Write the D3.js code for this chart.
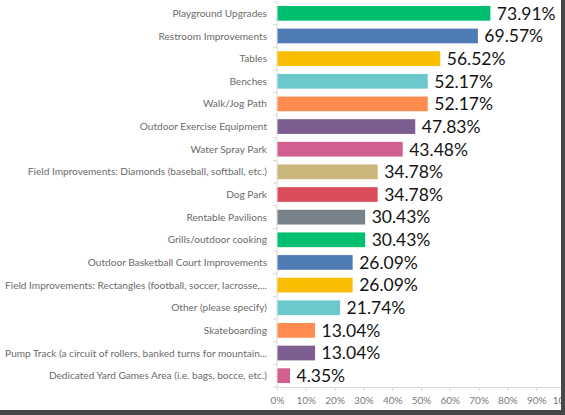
<!DOCTYPE html>
<html>
<head>
<meta charset="utf-8">
<script src="https://cdn.jsdelivr.net/npm/d3@7"></script>
<style>
  body { margin: 0; background: #fff; }
  svg { display: block; }
  .catLabel { font-family: Lato, "Liberation Sans", sans-serif; font-size: 10.1px; fill: #6b6b6b; }
  .valLabel { font-family: Lato, "Liberation Sans", sans-serif; font-size: 17.5px; fill: #141414; }
  .axis-x text { font-family: Lato, "Liberation Sans", sans-serif; font-size: 10px; fill: #7a7a7a; }
</style>
</head>
<body>
<div id="chart"></div>
<script>
// 数据
var categories = [
  "Playground Upgrades",
  "Restroom Improvements",
  "Tables",
  "Benches",
  "Walk/Jog Path",
  "Outdoor Exercise Equipment",
  "Water Spray Park",
  "Field Improvements: Diamonds (baseball, softball, etc.)",
  "Dog Park",
  "Rentable Pavilions",
  "Grills/outdoor cooking",
  "Outdoor Basketball Court Improvements",
  "Field Improvements: Rectangles (football, soccer, lacrosse,...",
  "Other (please specify)",
  "Skateboarding",
  "Pump Track (a circuit of rollers, banked turns for mountain...",
  "Dedicated Yard Games Area (i.e. bags, bocce, etc.)"
];
var values = [73.91, 69.57, 56.52, 52.17, 52.17, 47.83, 43.48, 34.78, 34.78, 30.43, 30.43, 26.09, 26.09, 21.74, 13.04, 13.04, 4.35];
var tickValues = [0, 10, 20, 30, 40, 50, 60, 70, 80, 90, 100];

// 调色板
var colors = ["#00bf6f", "#507cb6", "#f9be00", "#6bc8cd", "#ff8b4f", "#7d5e90", "#d25f90",
              "#c9b77b", "#db4d5c", "#798189", "#00bf6f", "#507cb6", "#f9be00", "#6bc8cd",
              "#ff8b4f", "#7d5e90", "#d25f90"];

var W = 565, H = 415;
var margin = { top: 2, left: 277 };
var plotBottom = 387;
var plotRight = 565;

var svg = d3.select("#chart").append("svg")
  .attr("width", W)
  .attr("height", H);

var x = d3.scaleLinear().domain([0, 100]).range([margin.left, plotRight]);
var y = d3.scaleBand().domain(categories).range([margin.top, plotBottom]).paddingInner(0.35).paddingOuter(0.175);
var yb = d3.scaleBand().domain(categories).range([margin.top, plotBottom]); // 用于刻度位置

// x 轴
var xAxis = d3.axisBottom(x)
  .tickValues(tickValues)
  .tickSize(4)
  .tickFormat(function(d) { return d + "%"; });

var gx = svg.append("g")
  .attr("class", "axis-x")
  .attr("transform", "translate(0," + plotBottom + ")")
  .call(xAxis);
gx.select(".domain").attr("stroke", "#d9d9d9");
gx.selectAll(".tick line").attr("stroke", "#d9d9d9");
gx.selectAll(".tick text").attr("dy", "1.0em");

// y 轴线与刻度（在类别之间）
svg.append("line")
  .attr("x1", margin.left).attr("x2", margin.left)
  .attr("y1", margin.top).attr("y2", plotBottom)
  .attr("stroke", "#d9d9d9");

var tickYs = categories.map(function(c) { return yb(c); }).concat([plotBottom]);
svg.selectAll(".ytick")
  .data(tickYs)
  .enter().append("line")
  .attr("x1", margin.left - 4).attr("x2", margin.left)
  .attr("y1", function(d) { return d; }).attr("y2", function(d) { return d; })
  .attr("stroke", "#d9d9d9");

// 类别标签
svg.selectAll(".catLabel")
  .data(categories)
  .enter().append("text")
  .attr("class", "catLabel")
  .attr("x", margin.left - 10)
  .attr("y", function(d) { return yb(d) + yb.bandwidth() / 2; })
  .attr("dy", "0.35em")
  .attr("text-anchor", "end")
  .text(function(d) { return d; });

// 条形
svg.selectAll(".bar")
  .data(values)
  .enter().append("rect")
  .attr("class", "bar")
  .attr("x", x(0) + 0.5)
  .attr("y", function(d, i) { return y(categories[i]); })
  .attr("width", function(d) { return x(d) - x(0); })
  .attr("height", y.bandwidth())
  .attr("fill", function(d, i) { return colors[i]; });

// 数值标签
svg.selectAll(".valLabel")
  .data(values)
  .enter().append("text")
  .attr("class", "valLabel")
  .attr("x", function(d) { return x(d) + 7; })
  .attr("y", function(d, i) { return yb(categories[i]) + yb.bandwidth() / 2; })
  .attr("dy", "0.36em")
  .text(function(d) { return d.toFixed(2) + "%"; });

// 外框（截图边缘的深色边）
svg.append("rect").attr("x", 561).attr("y", 0).attr("width", 4).attr("height", H).attr("fill", "#474747");
svg.append("rect").attr("x", 0).attr("y", 410).attr("width", W).attr("height", 5).attr("fill", "#474747");
</script>
</body>
</html>
